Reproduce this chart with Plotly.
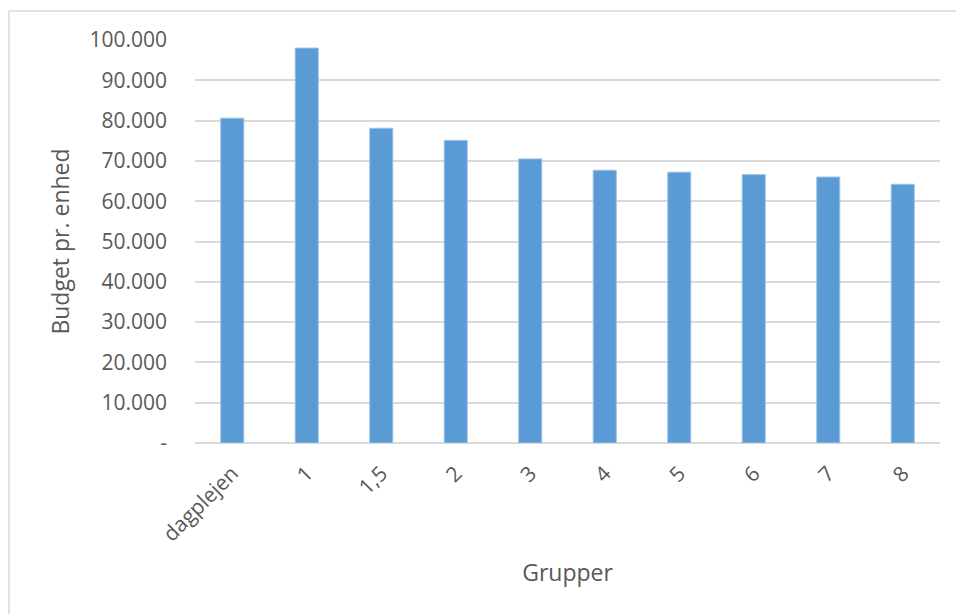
import plotly.graph_objects as go

categories = ["dagplejen", "1", "1,5", "2", "3", "4", "5", "6", "7", "8"]
values = [80600, 98000, 78100, 75100, 70500, 67700, 67200, 66600, 66000, 64200]
y_tickvals = [0, 10000, 20000, 30000, 40000, 50000, 60000, 70000, 80000, 90000, 100000]
y_ticktext = ["-", "10.000", "20.000", "30.000", "40.000", "50.000", "60.000", "70.000", "80.000", "90.000", "100.000"]

W, H = 956, 614
ML, MR, MT, MB = 195, 16, 40, 171
FONT = "Open Sans, sans-serif"
GRAY = "#595959"

fig = go.Figure(go.Bar(
    x=categories, y=values,
    marker=dict(color="#5B9BD5", line=dict(color="#9DC3E6", width=1)),
    width=0.31,
))

pw = W - ML - MR
ph = H - MT - MB
fig.add_shape(type="rect", xref="paper", yref="paper",
              x0=(9 - ML) / pw, x1=(W + 5 - ML) / pw,
              y0=-(H + 5 - MT - ph) / ph, y1=(H - 11 - MB) / ph,
              line=dict(color="#D9D9D9", width=1.5), fillcolor="rgba(0,0,0,0)", layer="below")

fig.update_layout(
    width=W, height=H,
    margin=dict(l=ML, r=MR, t=MT, b=MB),
    paper_bgcolor="white", plot_bgcolor="white",
    showlegend=False,
    font=dict(family=FONT, color=GRAY, size=21),
    xaxis=dict(
        tickangle=-45, tickfont=dict(size=21, color=GRAY),
        showgrid=False, showline=False, ticks="", ticklabelstandoff=13,
        title=dict(text="Grupper", font=dict(size=23, color=GRAY), standoff=18),
    ),
    yaxis=dict(
        range=[0, 100000], tickvals=y_tickvals, ticktext=y_ticktext,
        tickfont=dict(size=21, color=GRAY),
        showgrid=True, gridcolor="#D9D9D9", gridwidth=1.5,
        zeroline=True, zerolinecolor="#D9D9D9", zerolinewidth=1.5,
        showline=False, ticks="", ticklabelstandoff=27,
        title=dict(text="Budget pr. enhed", font=dict(size=23, color=GRAY), standoff=13),
    ),
)

fig.write_html("out.html")
